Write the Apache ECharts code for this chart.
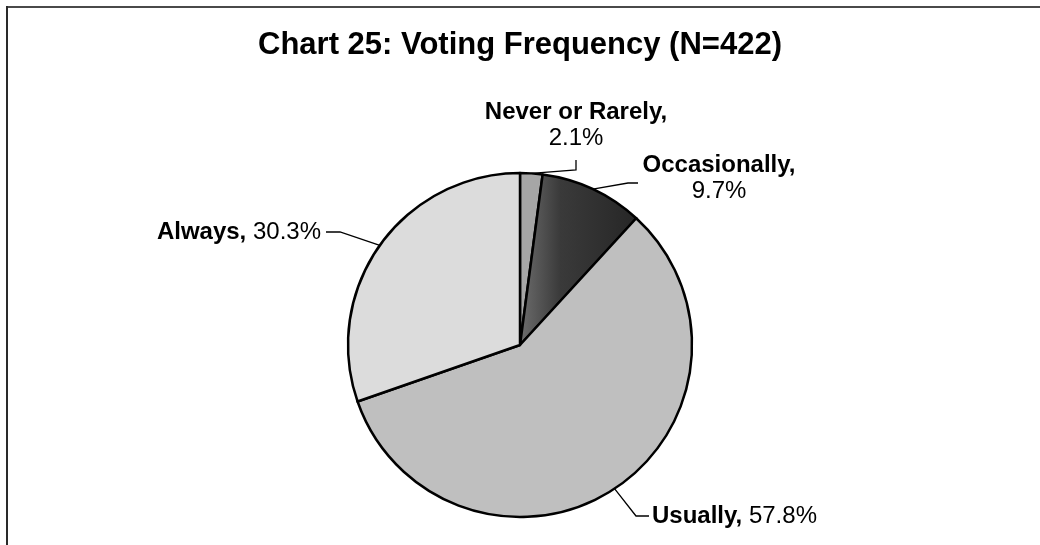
<!DOCTYPE html>
<html>
<head>
<meta charset="utf-8">
<script src="https://cdn.jsdelivr.net/npm/echarts@6/dist/echarts.min.js"></script>
<style>
  html, body { margin: 0; padding: 0; background: #ffffff; }
  #chart { width: 1040px; height: 545px; }
</style>
</head>
<body>
<div id="chart"></div>
<script>
// Voting frequency shares (percent), clockwise from 12 o'clock
const categories = ['Never or Rarely', 'Occasionally', 'Usually', 'Always'];
const shares = [2.1, 9.7, 57.8, 30.3];
const sliceColors = ['#a6a6a6', '#262626', '#bfbfbf', '#dcdcdc'];
const chartTitle = 'Chart 25: Voting Frequency (N=422)';

// Where each label sits and how its leader line bends
const labelPlacement = [
  { x: 576, y: 125, align: 'center', bend: [[576, 170], [576, 160]] },
  { x: 719, y: 178, align: 'center', bend: [[628, 183], [638, 183]] },
  { x: 652, y: 516, align: 'left',   bend: [[636, 516], [649, 516]] },
  { x: 321, y: 232, align: 'right',  bend: [[340, 232], [326, 232]] }
];

const twoLine = { 0: true, 1: true };

const chart = echarts.init(document.getElementById('chart'));

// the dark slice fades from grey on its left edge into black
function sliceFill(i) {
  if (i === 1) {
    return new echarts.graphic.LinearGradient(0, 0, 1, 0, [
      { offset: 0, color: '#6e6e6e' },
      { offset: 0.35, color: '#3a3a3a' },
      { offset: 1, color: sliceColors[i] }
    ]);
  }
  return sliceColors[i];
}

const pieData = categories.map((name, i) => ({
  name: name,
  value: shares[i],
  itemStyle: { color: sliceFill(i) }
}));

chart.setOption({
  backgroundColor: '#ffffff',
  animation: false,
  title: {
    text: chartTitle,
    left: 'center',
    top: 25,
    textStyle: {
      fontFamily: 'Liberation Sans, Arial, sans-serif',
      fontWeight: 'bold',
      fontSize: 31,
      color: '#000000'
    }
  },
  graphic: [
    { type: 'line', shape: { x1: 7, y1: 7, x2: 1040, y2: 7 },
      style: { stroke: '#4a4a4a', lineWidth: 2 } },
    { type: 'line', shape: { x1: 7, y1: 6, x2: 7, y2: 545 },
      style: { stroke: '#2a2a2a', lineWidth: 2 } }
  ],
  series: [{
    type: 'pie',
    center: [520, 345],
    radius: 172,
    startAngle: 90,
    clockwise: true,
    avoidLabelOverlap: false,
    data: pieData,
    itemStyle: { borderColor: '#000000', borderWidth: 2.5 },
    label: {
      show: true,
      position: 'outside',
      fontFamily: 'Liberation Sans, Arial, sans-serif',
      fontSize: 24,
      color: '#000000',
      lineHeight: 26,
      formatter: function (p) {
        const sep = twoLine[p.dataIndex] ? '\n' : ' ';
        return '{b|' + p.name + ',}' + sep + '{v|' + p.value + '%}';
      },
      rich: {
        b: { fontFamily: 'Liberation Sans, Arial, sans-serif', fontWeight: 'bold', fontSize: 24, lineHeight: 26, color: '#000' },
        v: { fontFamily: 'Liberation Sans, Arial, sans-serif', fontSize: 24, lineHeight: 26, color: '#000' }
      }
    },
    labelLine: {
      show: true,
      length: 10,
      length2: 10,
      lineStyle: { color: '#000000', width: 1.3 }
    },
    labelLayout: function (params) {
      const spec = labelPlacement[params.dataIndex];
      const start = params.labelLinePoints ? params.labelLinePoints[0] : spec.bend[0];
      return {
        x: spec.x,
        y: spec.y,
        align: spec.align,
        verticalAlign: 'middle',
        labelLinePoints: [start, spec.bend[0], spec.bend[1]]
      };
    }
  }]
});
</script>
</body>
</html>
